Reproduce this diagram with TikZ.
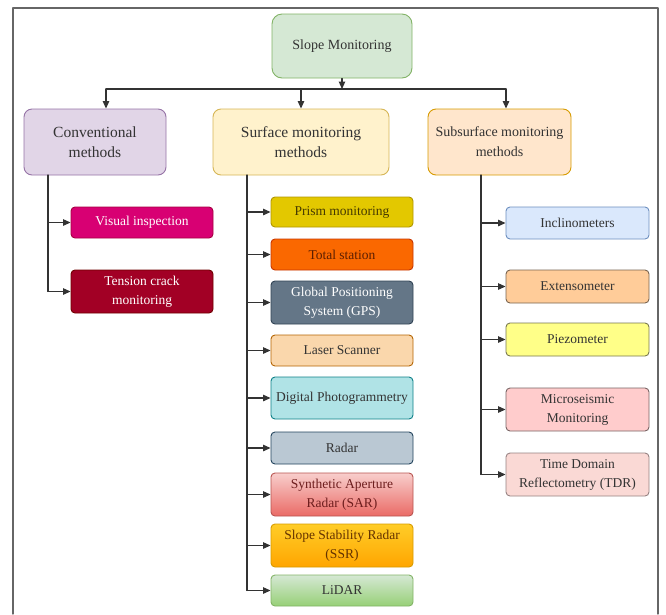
\documentclass[tikz,border=0pt]{standalone}
\usepackage{fontspec}
\setmainfont{Liberation Serif}
\usepackage{xcolor}
\usepackage{tikz}
\usetikzlibrary{positioning,arrows.meta}

\definecolor{lnk}{HTML}{333333}

\begin{document}
\begin{tikzpicture}[x=1pt, y=-1pt, line cap=round, line join=round,
		box/.style={draw, rounded corners=4pt, line width=0.9pt, align=center, inner sep=1pt,
			minimum width=142pt, text=lnk, font=\fontsize{13.5}{19}\selectfont},
		head/.style={box, rounded corners=8pt, minimum height=66pt, font=\fontsize{15.5}{20}\selectfont},
		arr/.style={draw=lnk, line width=1.1pt, -{Triangle[length=7.5pt,width=6.5pt]}},
		trunk/.style={draw=lnk, line width=1.1pt}]
		\useasboundingbox (0,0) rectangle (666,614);
		\draw[line width=1.3pt, draw=black!60] (13,614) -- (13,8) -- (658,8) -- (658,614);
		
		% top levels
		\node[head, fill={rgb,255:red,213;green,232;blue,212}, draw={rgb,255:red,130;green,179;blue,102},
			rounded corners=10pt, minimum width=140pt, minimum height=64pt, font=\fontsize{14}{18}\selectfont] (root) at (342,46) {Slope Monitoring};
		\node[head, fill={rgb,255:red,225;green,213;blue,231}, draw={rgb,255:red,150;green,115;blue,166},
			minimum width=142pt] (conv) at (95,142) {Conventional\\methods};
		\node[head, fill={rgb,255:red,255;green,242;blue,204}, draw={rgb,255:red,214;green,182;blue,86},
			minimum width=176pt] (surf) at (301,142) {Surface monitoring\\methods};
		\node[head, fill={rgb,255:red,255;green,230;blue,204}, draw={rgb,255:red,215;green,155;blue,0},
			minimum width=143pt, font=\fontsize{14}{20}\selectfont] (sub) at (499.5,142) {Subsurface monitoring\\methods};
		
		\coordinate (jn) at (342,89);
		\coordinate (jl) at (106,89);
		\coordinate (jm) at (301,89);
		\coordinate (jr) at (506,89);
		\draw[arr] (root.south) -- (jn);
		\draw[trunk] (jl) -- (jr);
		\draw[arr] (jl) -- (jl |- conv.north);
		\draw[arr] (jm) -- (jm |- surf.north);
		\draw[arr] (jr) -- (jr |- sub.north);
		
		% conventional
		\node[box, fill={rgb,255:red,216;green,0;blue,115}, draw={rgb,255:red,165;green,0;blue,64}, text=white,
			minimum height=31pt] (vis) at (142,222.5) {Visual inspection};
		\node[box, fill={rgb,255:red,162;green,0;blue,37}, draw={rgb,255:red,111;green,0;blue,0}, text=white,
			minimum height=43pt] (tens) at (142,291.5) {Tension crack\\monitoring};
		\coordinate (cTop) at (48,175);
		\draw[trunk] (cTop) -- (cTop |- tens.west);
		\foreach \n in {vis,tens}
		\draw[arr] (cTop |- \n.west) -- (\n.west);
		
		% surface
		\node[box, fill={rgb,255:red,227;green,200;blue,0}, draw={rgb,255:red,176;green,149;blue,0}, text={rgb,255:red,70;green,58;blue,0},
			minimum height=30pt] (prism) at (342,212) {Prism monitoring};
		\node[box, fill={rgb,255:red,250;green,104;blue,0}, draw={rgb,255:red,199;green,53;blue,0}, text={rgb,255:red,90;green,30;blue,0},
			minimum height=31pt] (total) at (342,254.5) {Total station};
		\node[box, fill={rgb,255:red,100;green,118;blue,135}, draw={rgb,255:red,49;green,67;blue,84}, text=white,
			minimum height=43pt] (gps) at (342,302.5) {Global Positioning\\System (GPS)};
		\node[box, fill={rgb,255:red,250;green,215;blue,172}, draw={rgb,255:red,180;green,101;blue,4},
			minimum height=31pt] (laser) at (342,350.5) {Laser Scanner};
		\node[box, fill={rgb,255:red,176;green,227;blue,230}, draw={rgb,255:red,14;green,128;blue,136},
			minimum height=42pt, inner sep=0pt] (dp) at (342,398) {Digital Photogrammetry};
		\node[box, fill={rgb,255:red,186;green,200;blue,211}, draw={rgb,255:red,35;green,68;blue,93},
			minimum height=32pt] (radar) at (342,448) {Radar};
		\node[box, top color={rgb,255:red,248;green,206;blue,204}, bottom color={rgb,255:red,234;green,107;blue,102},
			draw={rgb,255:red,184;green,84;blue,80}, text={rgb,255:red,110;green,30;blue,30},
			minimum height=43pt] (sar) at (342,494.5) {Synthetic Aperture\\Radar (SAR)};
		\node[box, top color={rgb,255:red,255;green,205;blue,40}, bottom color={rgb,255:red,255;green,165;blue,0},
			draw={rgb,255:red,215;green,155;blue,0}, text={rgb,255:red,100;green,50;blue,0},
			minimum height=43pt] (ssr) at (342,545.5) {Slope Stability Radar\\(SSR)};
		\node[box, top color={rgb,255:red,213;green,232;blue,212}, bottom color={rgb,255:red,151;green,208;blue,119},
			draw={rgb,255:red,130;green,179;blue,102}, minimum height=31pt] (lidar) at (342,590.5) {LiDAR};
		\coordinate (sTop) at (247,175);
		\draw[trunk] (sTop) -- (sTop |- lidar.west);
		\foreach \n in {prism,total,gps,laser,dp,radar,sar,ssr,lidar}
		\draw[arr] (sTop |- \n.west) -- (\n.west);
		
		% subsurface
		\node[box, fill={rgb,255:red,218;green,232;blue,252}, draw={rgb,255:red,108;green,142;blue,191},
			minimum width=143pt, minimum height=32pt] (incl) at (577.5,223) {Inclinometers};
		\node[box, fill={rgb,255:red,255;green,204;blue,153}, draw={rgb,255:red,120;green,100;blue,80},
			minimum width=143pt, minimum height=33pt] (ext) at (577.5,286.5) {Extensometer};
		\node[box, fill={rgb,255:red,255;green,255;blue,136}, draw={rgb,255:red,120;green,120;blue,80},
			minimum width=143pt, minimum height=33pt] (piezo) at (577.5,339.5) {Piezometer};
		\node[box, fill={rgb,255:red,255;green,204;blue,204}, draw={rgb,255:red,120;green,100;blue,100},
			minimum width=143pt, minimum height=43pt] (micro) at (577.5,409.5) {Microseismic\\Monitoring};
		\node[box, fill={rgb,255:red,250;green,217;blue,213}, draw={rgb,255:red,150;green,130;blue,130},
			minimum width=143pt, minimum height=43pt] (tdr) at (577.5,474.5) {Time Domain\\Reflectometry (TDR)};
		\coordinate (uTop) at (481,175);
		\draw[trunk] (uTop) -- (uTop |- tdr.west);
		\foreach \n in {incl,ext,piezo,micro,tdr}
		\draw[arr] (uTop |- \n.west) -- (\n.west);
	\end{tikzpicture}
\end{document}
